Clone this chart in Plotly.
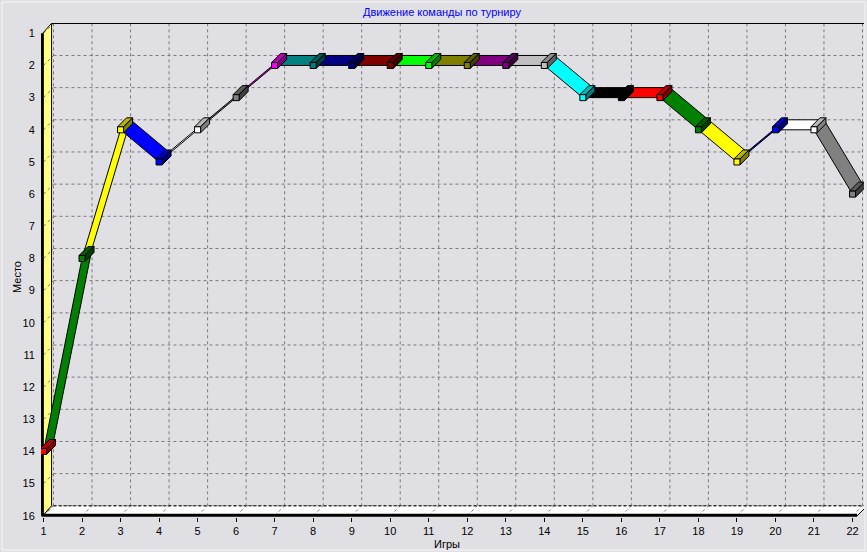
import plotly.graph_objects as go

# ---------------- data ----------------
games = list(range(1, 23))
places = [14, 8, 4, 5, 4, 3, 2, 2, 2, 2, 2, 2, 2, 2, 3, 3, 3, 4, 5, 4, 4, 6]
point_colors = ["#FF0000", "#008000", "#FFFF00", "#0000FF", "#FFFFFF", "#808080",
                "#FF00FF", "#008080", "#000080", "#800000", "#00FF00", "#808000",
                "#800080", "#C0C0C0", "#00FFFF", "#000000", "#FF0000", "#008000",
                "#FFFF00", "#0000FF", "#FFFFFF", "#808080"]
x_ticks = list(range(1, 23))
y_ticks = list(range(1, 17))
chart_title = "Движение команды по турниру"
x_title = "Игры"
y_title = "Место"

# ---------------- geometry (pixels) ----------------
W, H = 867, 552
FX1, FX22 = 43.5, 852.5      # front pixel x of game 1 / 22
FY1, FY16 = 33.3, 515.8      # front pixel y of place 1 / 16
PX = (FX22 - FX1) / (x_ticks[-1] - x_ticks[0])
PY = (FY16 - FY1) / (y_ticks[-1] - y_ticks[0])
L, R, T, B = 41, 3, 23, 35
PW, PH = W - L - R, H - T - B

x0 = x_ticks[0] - (FX1 - L) / PX
x1 = x0 + PW / PX
ytop = y_ticks[0] - (FY1 - T) / PY
ybot = ytop + PH / PY

DEPTH = 10.0
dxd, dyd = DEPTH / PX, DEPTH / PY
BOX = 9.0
bdx, bdy = BOX / PX, BOX / PY
hx, hy = 3.0 / PX, 3.0 / PY

BG = "#E0DFE3"
GRID = "#7A7A7A"
FONT = "Arial, Liberation Sans, sans-serif"

xmin, xmax = x_ticks[0], x_ticks[-1]
ymin, ymax = y_ticks[0], y_ticks[-1]


def path(pts):
    return "M " + " L ".join(f"{a},{b}" for a, b in pts) + " Z"


def shade(hexc, f):
    h = hexc.lstrip("#")
    r, g, b = (int(h[i:i + 2], 16) for i in (0, 2, 4))
    return "#%02X%02X%02X" % (int(r * f), int(g * f), int(b * f))


shapes = []
# back wall
shapes.append(dict(type="path", xref="x", yref="y", layer="below",
                   path=path([(xmin + dxd, ymin - dyd), (xmax + dxd, ymin - dyd),
                              (xmax + dxd, ymax - dyd), (xmin + dxd, ymax - dyd)]),
                   fillcolor=BG, line=dict(width=0)))
# floor
shapes.append(dict(type="path", xref="x", yref="y", layer="below",
                   path=path([(xmin, ymax), (xmax + 0.12, ymax),
                              (xmax + dxd + 0.12, ymax - dyd), (xmin + dxd, ymax - dyd)]),
                   fillcolor="#FFFFFF", line=dict(width=0)))
# left wall
shapes.append(dict(type="path", xref="x", yref="y", layer="below",
                   path=path([(xmin - 0.02, ymin), (xmin + dxd - 0.05, ymin - dyd),
                              (xmin + dxd - 0.05, ymax - dyd), (xmin - 0.02, ymax)]),
                   fillcolor="#FFFF80", line=dict(color="black", width=1)))
# back grid lines
for k in y_ticks:
    shapes.append(dict(type="line", xref="x", yref="y", layer="below",
                       x0=xmin + dxd, x1=xmax + dxd, y0=k - dyd, y1=k - dyd,
                       line=dict(color=GRID, width=1, dash="3px,3px")))
    shapes.append(dict(type="line", xref="x", yref="y", layer="below",
                       x0=xmin, x1=xmin + dxd, y0=k, y1=k - dyd,
                       line=dict(color=GRID, width=1, dash="3px,3px")))
for g in x_ticks:
    shapes.append(dict(type="line", xref="x", yref="y", layer="below",
                       x0=g + dxd, x1=g + dxd, y0=ymin - dyd, y1=ymax - dyd,
                       line=dict(color=GRID, width=1, dash="3px,3px")))
    shapes.append(dict(type="line", xref="x", yref="y", layer="below",
                       x0=g, x1=g + dxd, y0=ymax, y1=ymax - dyd,
                       line=dict(color=GRID, width=1, dash="3px,3px")))
# back floor edge (dashed black)
shapes.append(dict(type="line", xref="x", yref="y", layer="below",
                   x0=xmin + dxd, x1=xmax + dxd + 0.12, y0=ymax - dyd, y1=ymax - dyd,
                   line=dict(color="black", width=1, dash="3px,2px")))
shapes.append(dict(type="line", xref="x", yref="y", layer="below",
                   x0=xmax + 0.12, x1=xmax + dxd + 0.12, y0=ymax, y1=ymax - dyd,
                   line=dict(color="black", width=1)))
# top edge of back wall
shapes.append(dict(type="line", xref="x", yref="y", layer="below",
                   x0=xmin + dxd - 0.05, x1=xmax + dxd + 0.1, y0=ymin - dyd, y1=ymin - dyd,
                   line=dict(color="black", width=1.5)))
# front axes (thick black)
shapes.append(dict(type="line", xref="x", yref="y", layer="below",
                   x0=xmin - 0.03, x1=xmin - 0.03, y0=ymin, y1=ymax,
                   line=dict(color="black", width=3)))
shapes.append(dict(type="line", xref="x", yref="y", layer="below",
                   x0=xmin - 0.05, x1=xmax + 0.12, y0=ymax - 0.02, y1=ymax - 0.02,
                   line=dict(color="black", width=3)))
# panel bevel
shapes.append(dict(type="rect", xref="paper", yref="paper", layer="below",
                   x0=(2 - L) / PW, x1=(W - 2 - L) / PW,
                   y0=1 - (H - 2 - T) / PH, y1=1 - (2 - T) / PH,
                   line=dict(color="#F6F6F8", width=1)))

fig = go.Figure()

# ribbons
for i in range(1, len(games)):
    xa, ya = games[i - 1], places[i - 1]
    xb, yb = games[i], places[i]
    xs = [xa, xb, xb + dxd, xa + dxd, xa]
    ys = [ya, yb, yb - dyd, ya - dyd, ya]
    fig.add_trace(go.Scatter(x=xs, y=ys, mode="lines", fill="toself",
                             fillcolor=point_colors[i],
                             line=dict(color="black", width=1),
                             hoverinfo="skip", showlegend=False))

# point boxes
for g, p, c in zip(games, places, point_colors):
    front = [(g - hx, p - hy), (g + hx, p - hy), (g + hx, p + hy), (g - hx, p + hy)]
    top = [(g - hx, p - hy), (g + hx, p - hy), (g + hx + bdx, p - hy - bdy),
           (g - hx + bdx, p - hy - bdy)]
    right = [(g + hx, p - hy), (g + hx, p + hy), (g + hx + bdx, p + hy - bdy),
             (g + hx + bdx, p - hy - bdy)]
    for face, col in ((top, shade(c, 0.72)), (right, shade(c, 0.5)), (front, c)):
        xs = [a for a, _ in face] + [face[0][0]]
        ys = [b for _, b in face] + [face[0][1]]
        fig.add_trace(go.Scatter(x=xs, y=ys, mode="lines", fill="toself",
                                 fillcolor=col, line=dict(color="black", width=1),
                                 hoverinfo="skip", showlegend=False))


def px2paper(px, py):
    return (px - L) / PW, 1 - (py - T) / PH


annots = []
for txt, (px, py), ang, col in ((chart_title, (442, 12), 0, "#0000FF"),
                                (x_title, (447, 544), 0, "black"),
                                (y_title, (17, 277), -90, "black")):
    ax, ay = px2paper(px, py)
    annots.append(dict(text=txt, x=ax, y=ay, xref="paper", yref="paper",
                       xanchor="center", yanchor="middle", showarrow=False,
                       textangle=ang, font=dict(family=FONT, size=11, color=col)))

fig.update_layout(
    width=W, height=H,
    margin=dict(l=L, r=R, t=T, b=B, pad=0),
    paper_bgcolor=BG, plot_bgcolor=BG,
    shapes=shapes, annotations=annots,
    font=dict(family=FONT, size=11, color="black"),
    xaxis=dict(range=[x0, x1], tickvals=x_ticks, ticktext=[str(v) for v in x_ticks],
               showgrid=False, zeroline=False, showline=False,
               ticks="outside", ticklen=4, tickcolor="black",
               tickfont=dict(family=FONT, size=11, color="black"), fixedrange=True),
    yaxis=dict(range=[ybot, ytop], tickvals=y_ticks, ticktext=[str(v) for v in y_ticks],
               showgrid=False, zeroline=False, showline=False,
               ticks="outside", ticklen=3, tickcolor="rgba(0,0,0,0)",
               tickfont=dict(family=FONT, size=11, color="black"), fixedrange=True),
)

fig.write_html("out.html", config={"displayModeBar": False},
               post_script="document.body.style.margin='0';"
                           "document.body.style.overflow='hidden';"
                           "document.body.style.background='" + BG + "';")
